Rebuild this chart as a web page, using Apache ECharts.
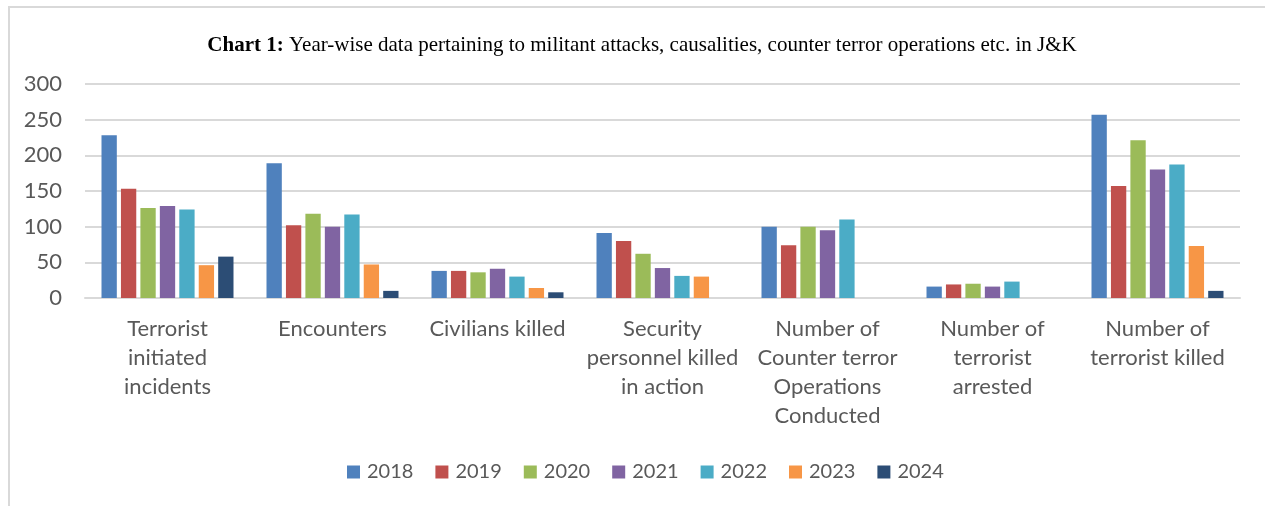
<!DOCTYPE html>
<html>
<head>
<meta charset="utf-8">
<script src="https://cdn.jsdelivr.net/npm/echarts@6/dist/echarts.min.js"></script>
<style>
html,body{margin:0;padding:0;background:#fff;}
#chart{width:1265px;height:506px;}
</style>
</head>
<body>
<div id="chart"></div>
<script>
var categories = [
  "Terrorist\ninitiated\nincidents",
  "Encounters",
  "Civilians killed",
  "Security\npersonnel killed\nin action",
  "Number of\nCounter terror\nOperations\nConducted",
  "Number of\nterrorist\narrested",
  "Number of\nterrorist killed"
];
var years = ["2018", "2019", "2020", "2021", "2022", "2023", "2024"];
var v2018 = [228, 189, 38, 91, 100, 16, 257];
var v2019 = [153, 102, 38, 80, 74, 19, 157];
var v2020 = [126, 118, 36, 62, 100, 20, 221];
var v2021 = [129, 100, 41, 42, 95, 16, 180];
var v2022 = [124, 117, 30, 31, 110, 23, 187];
var v2023 = [46, 47, 14, 30, null, null, 73];
var v2024 = [58, 10, 8, null, null, null, 10];
var yTicks = [0, 50, 100, 150, 200, 250, 300];

var colors = ["#4F81BD", "#C0504D", "#9BBB59", "#8064A2", "#4BACC6", "#F79646", "#2C4D75"];
var seriesValues = [v2018, v2019, v2020, v2021, v2022, v2023, v2024];

var chart = echarts.init(document.getElementById('chart'), null, {renderer: 'canvas'});
var font = 'Lato, "Open Sans", sans-serif';

var series = years.map(function (y, i) {
  return {
    name: y,
    type: 'bar',
    data: seriesValues[i],
    barGap: '27%',
    barCategoryGap: '20%',
    itemStyle: {color: colors[i]},
    emphasis: {disabled: true}
  };
});

chart.setOption({
  animation: false,
  color: colors,
  graphic: [{
    type: 'rect',
    shape: {x: 9, y: 7, width: 1300, height: 600},
    style: {fill: 'none', stroke: '#d9d9d9', lineWidth: 2},
    silent: true
  }],
  title: {
    text: '{b|Chart 1:} Year-wise data pertaining to militant attacks, causalities, counter terror operations etc. in J&K',
    left: 637,
    textAlign: 'center',
    top: 30,
    textStyle: {
      fontFamily: '"Liberation Serif", "Times New Roman", serif',
      fontSize: 21,
      fontWeight: 'normal',
      color: '#000',
      rich: {
        b: {fontFamily: '"Liberation Serif", "Times New Roman", serif', fontSize: 21, fontWeight: 'bold', color: '#000'}
      }
    }
  },
  legend: {
    data: years,
    top: 457,
    left: 342,
    itemWidth: 13,
    itemHeight: 13,
    itemGap: 22,
    icon: 'rect',
    textStyle: {fontFamily: font, fontSize: 20, color: '#595959', padding: [0, 0, 0, 2]}
  },
  grid: {left: 85, right: 25, top: 84, bottom: 208, containLabel: false},
  xAxis: {
    type: 'category',
    data: categories,
    axisLine: {lineStyle: {color: '#d9d9d9', width: 2}},
    axisTick: {show: false},
    axisLabel: {
      interval: 0,
      margin: 16,
      fontFamily: font,
      fontSize: 22,
      lineHeight: 29,
      color: '#595959',
      align: 'center'
    }
  },
  yAxis: {
    type: 'value',
    min: yTicks[0],
    max: yTicks[yTicks.length - 1],
    interval: 50,
    axisLine: {show: false},
    axisTick: {show: false},
    splitLine: {lineStyle: {color: '#d9d9d9', width: 2}},
    axisLabel: {margin: 23, fontFamily: font, fontSize: 22, color: '#595959'}
  },
  series: series
});
</script>
</body>
</html>
